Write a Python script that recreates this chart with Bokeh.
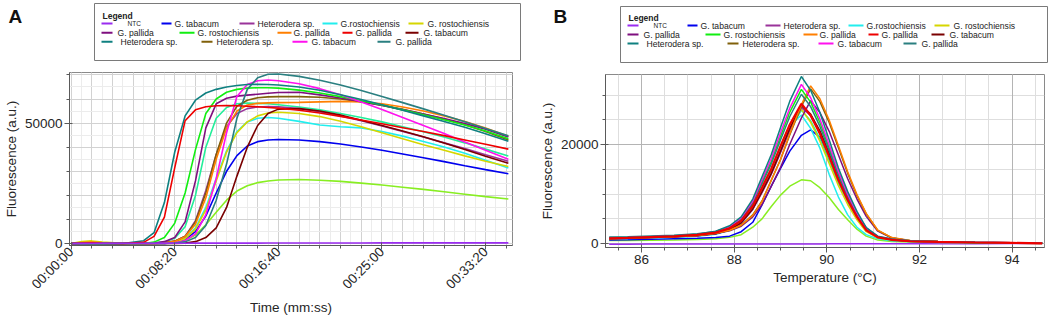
import math
from bokeh.plotting import figure
from bokeh.layouts import row, column
from bokeh.models import Range1d, FixedTicker, Grid
from bokeh.core.properties import value
from bokeh.embed import file_html
from bokeh.resources import INLINE

FONT = "Liberation Sans"

# ------------------------------------------------------------------ data
SERIES_NAMES = ["NTC", "G. tabacum", "Heterodera sp.", "G.rostochiensis", "G. rostochiensis",
                "G. pallida", "G. rostochiensis", "G. pallida", "G. pallida", "G. tabacum",
                "Heterodera sp.", "Heterodera sp.", "G. tabacum", "G. pallida",
                "G. rostochiensis", "G. rostochiensis"]
SERIES_COLORS = ["#9a2cf0", "#0000ee", "#9a339a", "#22eeee", "#d6d600",
                 "#7f0f7f", "#11ee11", "#ff7f00", "#ee0000", "#7a0000",
                 "#0f8080", "#80600a", "#ff11ee", "#2a7f80",
                 "#22ee99", "#88ee22"]

# Panel A: amplification (time in seconds)
A_TIME_S = [0, 50, 100, 150, 250, 350, 400, 450, 500, 550, 600, 650, 700, 750, 800, 850,
            900, 950, 1000, 1100, 1200, 1300, 1400, 1500, 1600, 1700, 1800, 1900, 2000, 2110]
A_TICKS_S = [0, 500, 1000, 1500, 2000]
A_TICK_LABELS = ["00:00:00", "00:08:20", "00:16:40", "00:25:00", "00:33:20"]

a_ntc = [0, 100, 150, 150, 150, 150, 150, 150, 150, 150, 200, 200, 200, 200, 200, 200,
         200, 250, 250, 250, 250, 250, 250, 300, 300, 300, 300, 300, 300, 300]
a_tabacum_blue = [0, 0, 0, 0, 0, 0, 0, 100, 500, 1800, 5000, 11500, 21000, 30000, 36500, 40500,
                  42300, 43000, 43200, 43000, 42300, 41300, 40100, 38700, 37200, 35600, 34000, 32300, 30700, 29000]
a_hetero_purple = [0, 0, 0, 0, 0, 0, 0, 300, 1000, 3000, 9500, 22000, 37000, 48500, 54000, 56000,
                   56700, 56900, 56800, 56000, 54700, 53000, 51000, 48800, 46500, 44200, 41800, 39400, 36900, 34200]
a_rosto_cyan = [0, 0, 0, 0, 0, 0, 0, 100, 600, 2200, 6500, 15000, 27000, 38500, 46500, 50500,
                52000, 52300, 52000, 50700, 49200, 48500, 48000, 46500, 44600, 42400, 40100, 37500, 34600, 31400]
a_rosto_yellow = [0, 800, 1100, 600, 100, 0, 0, 100, 600, 2000, 6000, 14000, 26000, 38000, 46000, 50500,
                  53000, 54200, 54500, 54000, 52700, 50800, 48500, 46000, 43500, 41000, 38700, 36400, 34200, 32000]
a_pallida_purple = [0, 0, 0, 0, 0, 0, 200, 800, 2500, 9000, 26000, 48000, 58000, 60300, 61200, 61600,
                    62000, 62400, 62700, 62800, 61700, 60400, 58900, 57300, 55600, 53800, 51900, 49800, 47500, 44200]
a_rosto_green = [0, 0, 0, 0, 0, 0, 600, 2500, 8500, 21000, 39000, 54000, 60000, 62800, 64000, 64500,
                 64700, 64700, 64500, 63700, 62500, 61000, 59300, 57500, 55500, 53500, 51400, 49200, 46700, 43500]
a_pallida_orange = [0, 400, 600, 300, 0, 0, 0, 300, 900, 2800, 8000, 19000, 35000, 48000, 55000, 57500,
                    58200, 58400, 58500, 58600, 58800, 59000, 58800, 58000, 56700, 55000, 53000, 50700, 48000, 44500]
a_pallida_red = [0, 200, 300, 150, 0, 500, 3000, 11000, 31500, 51000, 55500, 56800, 57200, 57300, 57200, 57000,
                 56800, 56500, 56200, 55300, 54200, 52800, 51300, 49700, 48100, 46500, 44800, 43000, 41200, 39200]
a_tabacum_maroon = [0, 0, 0, 0, 0, 0, 0, 0, 0, 200, 800, 2500, 6500, 15000, 28000, 40000,
                    49000, 54000, 55800, 56000, 55000, 53300, 51200, 49000, 46700, 44300, 41700, 39000, 36200, 33300]
a_hetero_teal = [0, 0, 0, 0, 0, 1200, 4500, 17000, 38000, 53000, 59500, 62500, 64000, 65000, 65600, 66000,
                 66100, 66000, 65800, 65000, 63600, 61800, 59800, 57600, 55300, 53000, 50700, 48300, 45600, 42500]
a_hetero_olive = [0, 0, 0, 0, 0, 0, 0, 300, 1000, 3000, 9000, 21000, 37000, 50000, 57000, 59500,
                  60500, 60900, 61000, 61000, 60700, 60000, 58900, 57400, 55700, 53800, 51700, 49300, 46500, 43000]
a_tabacum_magenta = [0, 0, 0, 0, 0, 0, 0, 0, 300, 1200, 4000, 12000, 27000, 46000, 61000, 66000,
                     67600, 67900, 67600, 66300, 64300, 61800, 58800, 55600, 52300, 49000, 45700, 42200, 38700, 35000]
a_pallida_teal = [0, 0, 0, 0, 0, 0, 0, 0, 200, 700, 2500, 7500, 18000, 33000, 52000, 64000,
                  68800, 70300, 70400, 69400, 67800, 65800, 63500, 61000, 58500, 55900, 53300, 50600, 47800, 44700]
a_rosto_mint = [0, 0, 0, 0, 0, 0, 200, 700, 2200, 7000, 20000, 40000, 52000, 56500, 58000, 58300,
                58200, 58000, 57600, 56700, 55500, 54000, 52300, 50500, 48500, 46400, 44200, 41800, 39200, 36300]
a_rosto_lime = [0, 0, 0, 0, 0, 0, 0, 100, 400, 1300, 3500, 7800, 13000, 18000, 21800, 24000,
                25300, 26000, 26400, 26600, 26300, 25800, 25100, 24300, 23400, 22500, 21500, 20500, 19500, 18500]

# Panel B: melt curves (temperature in degC)
B_TEMP_C = [85.3, 85.7, 86.2, 86.7, 87.2, 87.6, 87.9, 88.15, 88.4, 88.6, 88.8, 89.0, 89.2, 89.45,
            89.65, 89.85, 90.05, 90.25, 90.45, 90.65, 90.85, 91.1, 91.4, 91.8, 92.4, 93.2, 94.0, 94.65]
B_TICKS_C = [86, 88, 90, 92, 94]

b_ntc = [-120, -120, -110, -110, -100, -100, -100, -90, -90, -90, -80, -80, -80, -70,
         -70, -70, -60, -60, -60, -50, -50, -50, -40, -40, -30, -20, -10, 0]
b_tabacum_blue = [700, 750, 850, 950, 1050, 1200, 1500, 2400, 4300, 7800, 11600, 15200, 18700, 21900,
                  23000, 21500, 17900, 13800, 9500, 5900, 3200, 1300, 650, 420, 320, 200, 120, 40]
b_hetero_purple = [950, 1050, 1200, 1350, 1600, 2000, 2750, 4100, 6900, 10300, 14000, 18400, 22900, 27500,
                   25900, 22500, 18100, 13400, 9300, 5800, 3000, 1350, 770, 460, 330, 200, 120, 40]
b_rosto_cyan = [900, 1000, 1100, 1250, 1500, 1900, 2700, 4100, 7000, 10600, 14500, 19200, 23800, 26000,
                23300, 19300, 14000, 9400, 5800, 3300, 1800, 950, 580, 420, 320, 200, 120, 40]
b_rosto_yellow = [1000, 1100, 1250, 1450, 1750, 2200, 3100, 4700, 7700, 11400, 15200, 19700, 24000, 27200,
                  24500, 20700, 16200, 11700, 7900, 4800, 2400, 1150, 700, 430, 320, 200, 120, 40]
b_pallida_purple = [1000, 1100, 1250, 1400, 1650, 2050, 2600, 3500, 5400, 7900, 11600, 15400, 20100, 25400,
                    28900, 26500, 22700, 17900, 13100, 9000, 5500, 2500, 1100, 560, 400, 250, 150, 50]
b_rosto_green = [1050, 1150, 1300, 1500, 1800, 2300, 3300, 5000, 8300, 12500, 16600, 21700, 26600, 31200,
                 28600, 24500, 19400, 14100, 9700, 6000, 2950, 1400, 830, 500, 370, 230, 140, 50]
b_pallida_orange = [1000, 1100, 1250, 1400, 1650, 2100, 2700, 3700, 5700, 8500, 12800, 17000, 22200, 28100,
                    31900, 29300, 25000, 19800, 14500, 9900, 6100, 2700, 1200, 600, 420, 260, 160, 60]
b_pallida_red = [1050, 1150, 1300, 1450, 1750, 2200, 3100, 4600, 7600, 11300, 15100, 19700, 24100, 28300,
                 25900, 22200, 17600, 12800, 8800, 5400, 2700, 1250, 760, 460, 340, 210, 130, 40]
b_tabacum_maroon = [950, 1050, 1200, 1350, 1600, 2000, 2800, 4200, 7000, 10500, 14200, 18700, 23300, 27900,
                    26200, 22800, 18300, 13500, 9400, 5900, 3000, 1350, 780, 470, 340, 210, 130, 40]
b_hetero_teal = [1150, 1250, 1400, 1600, 1900, 2500, 3600, 5400, 9000, 13500, 18000, 23500, 28800, 33800,
                 31000, 26500, 21000, 15300, 10500, 6500, 3200, 1500, 900, 550, 400, 250, 150, 50]
b_hetero_olive = [1000, 1100, 1250, 1400, 1650, 2100, 2700, 3700, 5800, 8600, 12800, 17000, 22000, 27800,
                  31300, 28700, 24500, 19400, 14200, 9700, 6000, 2650, 1180, 590, 410, 250, 150, 50]
b_tabacum_magenta = [1100, 1200, 1350, 1550, 1850, 2400, 3450, 5200, 8600, 12900, 17200, 22400, 27400, 32200,
                     29500, 25200, 20000, 14600, 10000, 6200, 3050, 1450, 850, 520, 380, 240, 140, 50]
b_pallida_teal = [1300, 1400, 1550, 1700, 2000, 2450, 3350, 4900, 8100, 12100, 16100, 21000, 25700, 30200,
                  27700, 23700, 18800, 13700, 9400, 5800, 2900, 1350, 800, 500, 360, 220, 130, 40]
b_rosto_mint = [1100, 1200, 1350, 1500, 1800, 2150, 3000, 4400, 7300, 10800, 14400, 18800, 23000, 27000,
                24800, 21200, 16800, 12200, 8400, 5200, 2600, 1200, 730, 440, 320, 200, 120, 40]
b_rosto_lime = [600, 620, 650, 700, 800, 950, 1250, 1800, 3300, 5000, 7500, 9800, 11600, 12900,
                12700, 11300, 9300, 6900, 4800, 2900, 1500, 700, 400, 300, 230, 150, 90, 30]

A_SERIES = [a_ntc, a_tabacum_blue, a_hetero_purple, a_rosto_cyan, a_rosto_yellow, a_pallida_purple,
            a_rosto_green, a_pallida_orange, a_pallida_red, a_tabacum_maroon, a_hetero_teal,
            a_hetero_olive, a_tabacum_magenta, a_pallida_teal, a_rosto_mint, a_rosto_lime]
B_SERIES = [b_ntc, b_tabacum_blue, b_hetero_purple, b_rosto_cyan, b_rosto_yellow, b_pallida_purple,
            b_rosto_green, b_pallida_orange, b_pallida_red, b_tabacum_maroon, b_hetero_teal,
            b_hetero_olive, b_tabacum_magenta, b_pallida_teal, b_rosto_mint, b_rosto_lime]

# ------------------------------------------------------------------ layout constants
LEG_H = 63
PLOT_H = 255
COL_A_W = 536
COL_B_W = 516
TXT = "#262626"
AXC = "#5a5a5a"

# legend entry layout: (series index, row, line x0, line x1, text x) relative to box left
LEG_LAYOUT = [
    (0, 0, 7, 18, 33), (1, 0, 67, 77, 80), (2, 0, 145, 160, 163), (3, 0, 228, 243, 246), (4, 0, 314, 329, 333),
    (5, 1, 7, 18, 23), (6, 1, 85, 100, 103), (7, 1, 183, 197, 199), (8, 1, 248, 258, 261), (9, 1, 311, 324, 329),
    (10, 2, 7, 18, 26), (11, 2, 107, 118, 122), (12, 2, 198, 213, 217), (13, 2, 283, 296, 301),
]


def make_legend(x0, width, box_l, box_r, box_t, box_b, title_y, rows_y, letter, letter_x):
    p = figure(width=width, height=LEG_H, x_range=Range1d(x0, x0 + width), y_range=Range1d(LEG_H, 0),
               output_backend="svg", toolbar_location=None, min_border=0,
               x_axis_type=None, y_axis_type=None)
    p.frame_align = False
    p.grid.visible = False
    p.outline_line_color = None
    p.quad(left=[box_l], right=[box_r], top=[box_t], bottom=[box_b],
           fill_color="white", line_color="#7a7a7a", line_width=1)
    p.text(x=[letter_x], y=[15.5], text=[letter], text_font=value(FONT), text_font_size=value("19px"),
           text_font_style=value("bold"), text_baseline="middle", text_align="left", text_color="#111111")
    p.text(x=[box_l + 8], y=[title_y], text=["Legend"], text_font=value(FONT), text_font_size=value("8.5px"),
           text_font_style=value("bold"), text_baseline="middle", text_color="#222222")
    for idx, r, lx0, lx1, tx in LEG_LAYOUT:
        yy = rows_y[r]
        p.segment(x0=[box_l + lx0], y0=[yy], x1=[box_l + lx1], y1=[yy],
                  line_color=SERIES_COLORS[idx], line_width=2)
        fs = "6.5px" if SERIES_NAMES[idx] == "NTC" else "8.6px"
        p.text(x=[box_l + tx], y=[yy], text=[SERIES_NAMES[idx]], text_font=value(FONT),
               text_font_size=value(fs), text_baseline="middle", text_align="left", text_color="#222222")
    return p


def style_axes(p):
    p.frame_align = False
    p.outline_line_color = "#8a8a8a"
    p.background_fill_color = "white"
    p.border_fill_color = "white"
    for ax in (p.xaxis[0], p.yaxis[0]):
        ax.axis_line_color = AXC
        ax.major_tick_line_color = AXC
        ax.minor_tick_line_color = AXC
        ax.major_tick_in = 3
        ax.major_tick_out = 5
        ax.minor_tick_in = 0
        ax.minor_tick_out = 3
        ax.major_label_text_font = FONT
        ax.major_label_text_font_size = "13.5px"
        ax.major_label_text_color = TXT
        ax.axis_label_text_font = FONT
        ax.axis_label_text_font_size = "13.5px"
        ax.axis_label_text_font_style = "normal"
        ax.axis_label_text_color = TXT
        ax.major_label_standoff = 2
        ax.axis_label_standoff = 3


# ------------------------------------------------------------------ panel A
legA = make_legend(0, COL_A_W, 94, 520, 3, 60, 15, [23.0, 32.3, 41.3], "A", 8)

pA = figure(width=COL_A_W, height=PLOT_H, x_range=Range1d(-8, 2130), y_range=Range1d(-800, 71000),
            output_backend="svg", toolbar_location=None,
            min_border_left=69, min_border_right=24, min_border_top=9, min_border_bottom=71,
            x_axis_label="Time (mm:ss)", y_axis_label="Fluorescence (a.u.)")
style_axes(pA)
pA.xaxis.ticker = FixedTicker(ticks=A_TICKS_S, minor_ticks=list(range(0, 2101, 100)))
pA.xaxis.major_label_overrides = {t: s for t, s in zip(A_TICKS_S, A_TICK_LABELS)}
pA.xaxis.major_label_orientation = math.pi / 4
pA.xaxis.major_tick_out = 4
pA.xaxis.major_label_standoff = 0
pA.xaxis.axis_label_standoff = 0
pA.yaxis.ticker = FixedTicker(ticks=[0, 50000], minor_ticks=list(range(0, 70001, 10000)))
pA.xgrid.ticker = FixedTicker(ticks=list(range(0, 2101, 100)), minor_ticks=list(range(0, 2101, 50)))
pA.xgrid.grid_line_color = "#d2d2d2"
pA.xgrid.minor_grid_line_color = "#ececec"
pA.ygrid.ticker = FixedTicker(ticks=list(range(0, 70001, 10000)), minor_ticks=list(range(0, 70001, 5000)))
pA.ygrid.grid_line_color = "#d2d2d2"
pA.ygrid.minor_grid_line_color = "#ececec"

order_A = [15, 14, 1, 3, 4, 2, 9, 11, 7, 5, 6, 12, 13, 10, 8, 0]
for i in order_A:
    pA.line(A_TIME_S, A_SERIES[i], line_color=SERIES_COLORS[i], line_width=1.6)

# ------------------------------------------------------------------ panel B
legB = make_legend(COL_A_W, COL_B_W, 620, 1047, 6, 62, 17, [25.0, 34.0, 43.0], "B", 553)

pB = figure(width=COL_B_W, height=PLOT_H, x_range=Range1d(85.22, 94.70), y_range=Range1d(-800, 34200),
            output_backend="svg", toolbar_location=None,
            min_border_left=60, min_border_right=8, min_border_top=11, min_border_bottom=71,
            x_axis_label="Temperature (°C)", y_axis_label="Fluorescence (a.u.)")
style_axes(pB)
pB.xaxis.ticker = FixedTicker(ticks=B_TICKS_C, minor_ticks=[85.5 + 0.5 * k for k in range(19)])
pB.yaxis.ticker = FixedTicker(ticks=[0, 20000], minor_ticks=list(range(0, 30001, 5000)))
pB.xgrid.ticker = FixedTicker(ticks=[85.5 + 0.5 * k for k in range(19)])
pB.xgrid.grid_line_color = "#dedede"
pB.ygrid.ticker = FixedTicker(ticks=list(range(0, 30001, 5000)))
pB.ygrid.grid_line_color = "#dedede"
pB.add_layout(Grid(dimension=0, ticker=FixedTicker(ticks=B_TICKS_C), grid_line_color="#b4b4b4"))
pB.add_layout(Grid(dimension=1, ticker=FixedTicker(ticks=[0, 20000]), grid_line_color="#b4b4b4"))

order_B = [0, 15, 1, 3, 14, 4, 2, 9, 5, 11, 7, 6, 13, 12, 10, 8]
for i in order_B:
    pB.line(B_TEMP_C, B_SERIES[i], line_color=SERIES_COLORS[i],
            line_width=2.2 if i == 8 else 1.5)

layout = row(column(legA, pA), column(legB, pB))
open("out.html", "w").write(file_html(layout, INLINE))
